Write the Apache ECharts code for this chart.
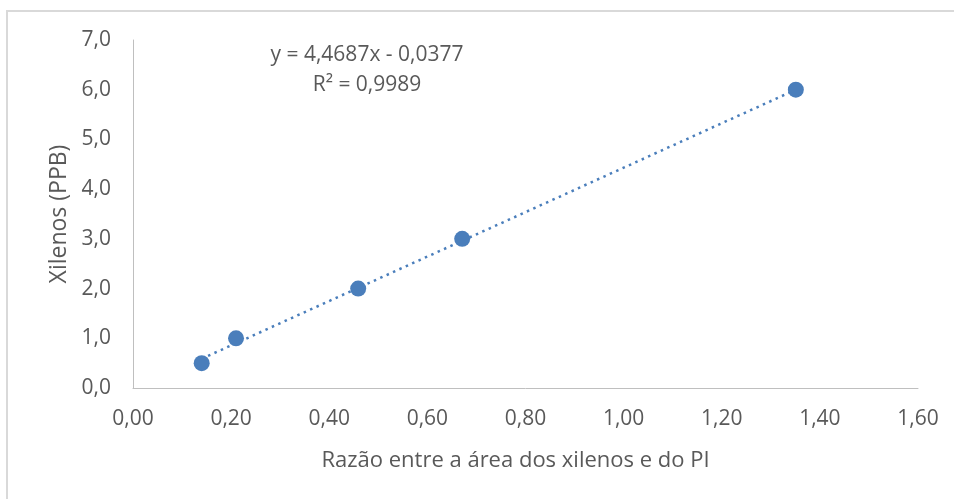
<!DOCTYPE html>
<html>
<head>
<meta charset="utf-8">
<script src="https://cdn.jsdelivr.net/npm/echarts@6/dist/echarts.min.js"></script>
<style>
  html, body { margin: 0; padding: 0; background: #fff; }
  #chart { width: 954px; height: 499px; }
</style>
</head>
<body>
<div id="chart"></div>
<script>
// Data
const ratioX = [0.14, 0.21, 0.459, 0.671, 1.351];
const xilenosY = [0.5, 1.0, 2.0, 3.0, 6.0];
// Trendline endpoints (y = 4,4687x - 0,0377)
const trendX = [0.14, 1.351];
const trendY = [0.588, 6.0];
const equationText = 'y = 4,4687x - 0,0377';
const r2Text = 'R² = 0,9989';
const xTitle = 'Razão entre a área dos xilenos e do PI';
const yTitle = 'Xilenos (PPB)';

const FONT = 'Open Sans';
const TXT = '#595959';
const chart = echarts.init(document.getElementById('chart'), null, { renderer: 'canvas' });

chart.setOption({
  animation: false,
  backgroundColor: '#fff',
  grid: { left: 133, right: 36, top: 40, bottom: 111, containLabel: false },
  xAxis: {
    type: 'value', min: 0, max: 1.6, interval: 0.2,
    axisLine: { show: true, lineStyle: { color: '#bfbfbf', width: 1 } },
    axisTick: { show: false },
    splitLine: { show: false },
    axisLabel: {
      color: TXT, fontFamily: FONT, fontSize: 21, margin: 21,
      formatter: v => v.toFixed(2).replace('.', ',')
    },
    name: xTitle, nameLocation: 'middle', nameGap: 62,
    nameTextStyle: { color: TXT, fontFamily: FONT, fontSize: 22, padding: [0, 20, 0, 0] }
  },
  yAxis: {
    type: 'value', min: 0, max: 7, interval: 1,
    axisLine: { show: true, lineStyle: { color: '#bfbfbf', width: 1 } },
    axisTick: { show: false },
    splitLine: { show: false },
    axisLabel: {
      color: TXT, fontFamily: FONT, fontSize: 21, margin: 22,
      formatter: v => v.toFixed(1).replace('.', ',')
    },
    name: yTitle, nameLocation: 'middle', nameGap: 60, nameRotate: 90,
    nameTextStyle: { color: TXT, fontFamily: FONT, fontSize: 23 }
  },
  graphic: [
    { type: 'rect', shape: { x: 7, y: 11, width: 1000, height: 600 },
      style: { fill: 'none', stroke: '#d9d9d9', lineWidth: 2 }, z: 100 },
    { type: 'text', x: 367, y: 55,
      style: { text: equationText, fill: TXT, font: '21px "' + FONT + '"', align: 'center', verticalAlign: 'middle' } },
    { type: 'text', x: 367, y: 85,
      style: { text: r2Text, fill: TXT, font: '21px "' + FONT + '"', align: 'center', verticalAlign: 'middle' } }
  ],
  series: [
    {
      type: 'line',
      data: trendX.map((x, i) => [x, trendY[i]]),
      showSymbol: false, symbol: 'none',
      lineStyle: { color: '#4a7ebb', width: 2.5, type: [2.5, 4.5] },
      z: 1
    },
    {
      type: 'scatter',
      data: ratioX.map((x, i) => [x, xilenosY[i]]),
      symbol: 'circle', symbolSize: 16,
      itemStyle: { color: '#4a7ebb', opacity: 1 },
      z: 2
    }
  ]
});
</script>
</body>
</html>
